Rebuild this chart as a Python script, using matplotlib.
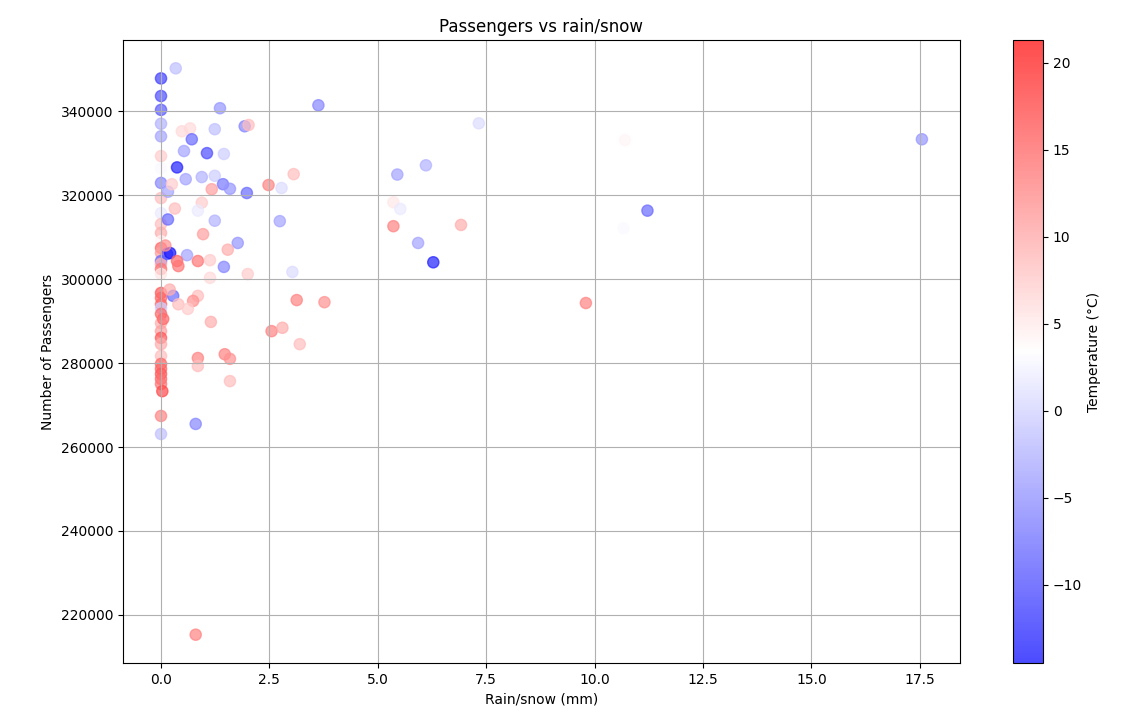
import numpy as np
import matplotlib
matplotlib.use("Agg")
import matplotlib.pyplot as plt

# rain/snow (mm), passengers, temperature (C)
rain = [
    0, 0, 0, 0, 0, 0, 0, 0, 0, 0,
    0, 0, 0, 0, 0, 0, 0, 0, 0, 0,
    0, 0, 0, 0, 0, 0, 0, 0, 0, 0,
    0, 0, 0, 0, 0.03, 0, 0,
    0.34, 1.36, 3.63, 7.33, 10.7, 17.55, 1.93, 2.02, 0.67, 0.48,
    1.24, 0.71, 1.06, 0.53, 1.45, 0.37, 0.57, 0.94, 1.24, 1.43,
    1.59, 1.98, 1.17, 0.16, 0.25, 0.94, 0.85, 1.24, 0.16, 0.32,
    0.97, 1.77, 1.54, 0.14, 0.21, 0.6, 0.85, 0.37, 0.4, 1.13,
    1.45, 2.0, 1.13, 0.28, 0.85, 0.74, 0.4, 0.62, 1.15, 0.85,
    0.85, 1.47, 1.59, 1.59, 0.8, 3.06, 2.48, 2.78, 2.74, 3.03,
    3.13, 3.77, 2.55, 2.8, 3.2, 5.45, 6.11, 5.36, 5.52, 5.36,
    6.92, 5.93, 6.28, 11.22, 10.67, 9.8, 0.8, 0.1, 0.2, 0.05,
]
passengers = [
    347800, 343600, 340300, 337000, 334000, 329300, 326400, 322900, 319300, 315700,
    313100, 311000, 309000, 307400, 306200, 304300, 303600, 302400, 301200, 296700,
    295500, 294000, 293100, 291700, 289500, 287600, 286000, 284500, 281700, 279800,
    278600, 277400, 276200, 275000, 273300, 267400, 263100,
    350200, 340700, 341400, 337100, 333100, 333300, 336400, 336700, 335900, 335200,
    335700, 333300, 330000, 330500, 329800, 326600, 323800, 324300, 324600, 322600,
    321500, 320500, 321400, 320800, 322600, 318200, 316300, 313900, 314200, 316800,
    310700, 308600, 307000, 306000, 306200, 305700, 304300, 304300, 303100, 304500,
    302900, 301200, 300300, 296000, 296000, 294800, 294000, 292900, 289800, 281200,
    279300, 282100, 281000, 275700, 265500, 325000, 322400, 321700, 313800, 301700,
    295000, 294500, 287600, 288400, 284500, 324900, 327100, 318300, 316700, 312600,
    312900, 308600, 304000, 316300, 312100, 294300, 215300, 308000, 297500, 290500,
]
temperature = [
    -10, -9, -8, -2, -3, 7, 3, -5, 8, 2,
    8, 9, 4, 14, 10, -7, 9, 13, 5, 15,
    14, 14, 0, 14, 9, 10, 15, 9, 8, 14,
    14, 15, 14, 13, 16, 12, -1,
    -1, -4, -5, 1, 4, -4, -5, 8, 6, 6,
    -1, -7, -9, -3, 0, -12, -3, -2, 0, -6,
    -4, -7, 10, -3, 7, 7, 2, -2, -7, 8,
    10, -4, 9, -8, -13, -3, 13, 14, 13, 7,
    -5, 7, 6, -7, 8, 11, 8, 7, 9, 12,
    8, 12, 11, 8, -5, 8, 12, 1, -3, 1,
    12, 11, 12, 9, 8, -3, -2, 5, 2, 12,
    9, -3, -12, -7, 3, 12, 12, 11, 9, 14,
]

fig = plt.figure(figsize=(11.23, 7.22), dpi=100)
ax = fig.add_axes([0.1095, 0.0817, 0.7453, 0.8629])
cax = fig.add_axes([0.902, 0.0817, 0.0267, 0.8629])

sc = ax.scatter(rain, passengers, c=temperature, cmap="bwr", alpha=0.7, s=65,
                vmin=-14.5, vmax=21.3)
cb = fig.colorbar(sc, cax=cax)
cb.set_label("Temperature (°C)")

ax.set_title("Passengers vs rain/snow")
ax.set_xlabel("Rain/snow (mm)")
ax.set_ylabel("Number of Passengers")
ax.grid(True)

fig.savefig("out.png", dpi=100)
